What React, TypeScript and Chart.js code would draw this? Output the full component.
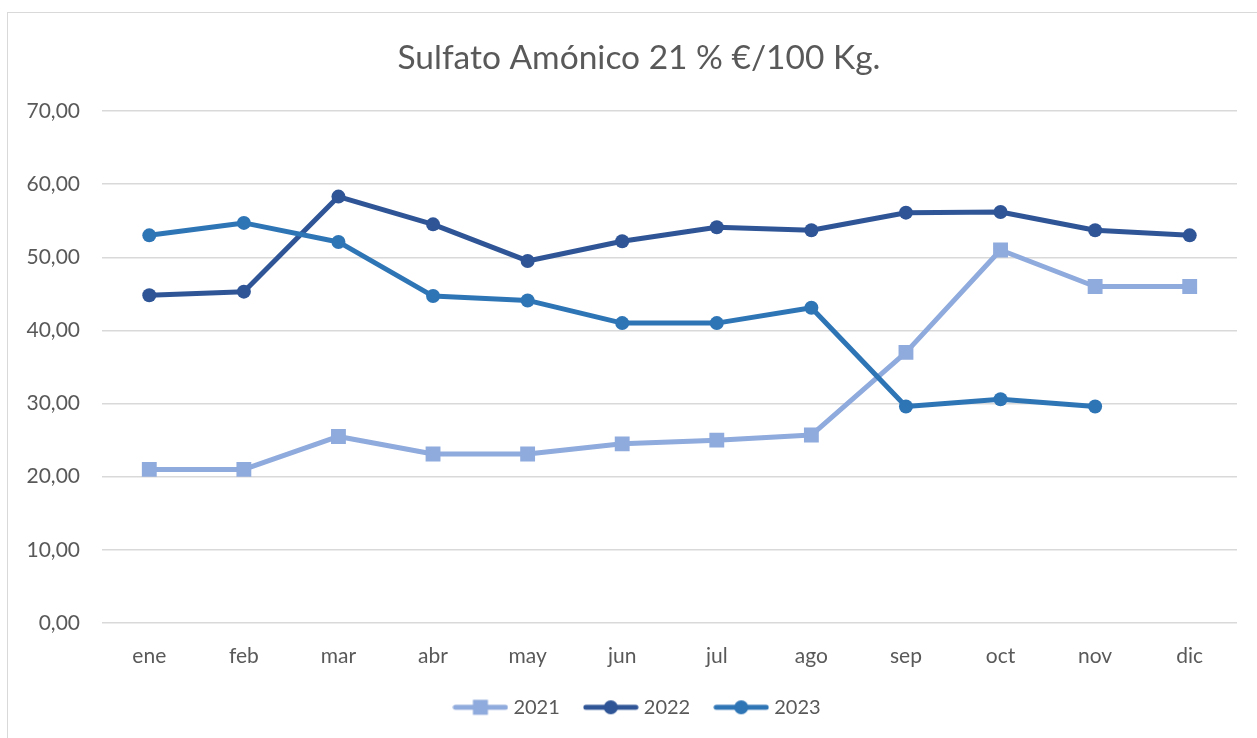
import React, { useEffect, useRef } from 'react';
import { Chart, registerables } from 'chart.js';

Chart.register(...registerables);

const TITLE = 'Sulfato Amónico 21 % €/100 Kg.';
const MONTHS = ['ene', 'feb', 'mar', 'abr', 'may', 'jun', 'jul', 'ago', 'sep', 'oct', 'nov', 'dic'];
const SERIES_LABELS = ['2021', '2022', '2023'];
const VALUES_2021 = [21.0, 21.0, 25.5, 23.1, 23.1, 24.5, 25.0, 25.7, 37.0, 51.0, 46.0, 46.0];
const VALUES_2022 = [44.8, 45.3, 58.3, 54.5, 49.5, 52.2, 54.1, 53.7, 56.1, 56.2, 53.7, 53.0];
const VALUES_2023 = [53.0, 54.7, 52.1, 44.7, 44.1, 41.0, 41.0, 43.1, 29.6, 30.6, 29.6, null];
const COLORS = ['#8FAADC', '#2F5597', '#2E75B6'];
const POINT_STYLES = ['rect', 'circle', 'circle'];
const Y_MIN = 0;
const Y_MAX = 70;
const Y_STEP = 10;

const FONT = 'Lato, "Open Sans", sans-serif';
const TEXT_COLOR = '#595959';
const GRID_COLOR = '#D9D9D9';

function makeIcon(color: string, style: string): HTMLCanvasElement {
  const c = document.createElement('canvas');
  c.width = 56;
  c.height = 18;
  const ctx = c.getContext('2d')!;
  ctx.strokeStyle = color;
  ctx.fillStyle = color;
  ctx.lineWidth = 5;
  ctx.lineCap = 'round';
  ctx.beginPath();
  ctx.moveTo(3, 9);
  ctx.lineTo(53, 9);
  ctx.stroke();
  if (style === 'rect') {
    ctx.fillRect(28 - 7.5, 9 - 7.5, 15, 15);
  } else {
    ctx.beginPath();
    ctx.arc(28, 9, 7, 0, Math.PI * 2);
    ctx.fill();
  }
  return c;
}

export default function App() {
  const ref = useRef<HTMLCanvasElement | null>(null);

  useEffect(() => {
    if (!ref.current) return;
    const icons = COLORS.map((c, i) => makeIcon(c, POINT_STYLES[i]));
    const series = [VALUES_2021, VALUES_2022, VALUES_2023];
    const chart = new Chart(ref.current, {
      type: 'line',
      data: {
        labels: MONTHS,
        datasets: series.map((vals, i) => ({
          label: SERIES_LABELS[i],
          data: vals,
          borderColor: COLORS[i],
          backgroundColor: COLORS[i],
          borderWidth: 5,
          borderJoinStyle: 'round' as const,
          borderCapStyle: 'round' as const,
          pointStyle: POINT_STYLES[i] as any,
          pointRadius: POINT_STYLES[i] === 'rect' ? 10.5 : 7,
          pointBackgroundColor: COLORS[i],
          pointBorderColor: COLORS[i],
          pointBorderWidth: 0,
          tension: 0,
          order: 2 - i,
        })),
      },
      options: {
        responsive: false,
        animation: false,
        layout: { padding: { left: 0, right: 0, top: 0, bottom: 10.7 } },
        scales: {
          x: {
            type: 'category',
            offset: true,
            grid: { display: false, drawTicks: false },
            border: { display: false },
            ticks: {
              color: TEXT_COLOR,
              font: { family: FONT, size: 21 },
              padding: 20.4,
              maxRotation: 0,
            },
            afterFit: (scale: any) => {
              scale.height = 46.3;
            },
          },
          y: {
            min: Y_MIN,
            max: Y_MAX,
            grid: { color: GRID_COLOR, lineWidth: 1.5, drawTicks: false },
            border: { display: false },
            ticks: {
              stepSize: Y_STEP,
              color: TEXT_COLOR,
              font: { family: FONT, size: 21 },
              padding: 22,
              callback: (v: any) => Number(v).toFixed(2).replace('.', ','),
            },
            afterFit: (scale: any) => {
              scale.width = 94;
            },
          },
          yRight: {
            position: 'right',
            display: true,
            min: Y_MIN,
            max: Y_MAX,
            grid: { display: false, drawTicks: false },
            border: { display: false },
            ticks: { display: false },
            afterFit: (scale: any) => {
              scale.width = 33;
            },
          },
        },
        plugins: {
          title: {
            display: true,
            text: TITLE,
            color: TEXT_COLOR,
            font: { family: FONT, size: 33.5, weight: 'normal' },
            padding: { top: 24.9, bottom: 32.9 },
          },
          legend: {
            display: true,
            position: 'bottom',
            labels: {
              usePointStyle: true,
              pointStyleWidth: 46,
              boxHeight: 18,
              padding: 28,
              color: TEXT_COLOR,
              font: { family: FONT, size: 20 },
              generateLabels: (ch: any) =>
                ch.data.datasets.map((ds: any, i: number) => ({
                  text: ds.label,
                  fillStyle: COLORS[i],
                  strokeStyle: COLORS[i],
                  lineWidth: 0,
                  hidden: !ch.isDatasetVisible(i),
                  datasetIndex: i,
                  pointStyle: icons[i],
                  fontColor: TEXT_COLOR,
                })),
            },
          },
          tooltip: { enabled: false },
        },
      },
    });
    return () => chart.destroy();
  }, []);

  return (
    <div
      style={{
        position: 'fixed',
        left: 7,
        top: 12,
        width: 1262,
        height: 725,
        border: '1px solid #D9D9D9',
        background: '#fff',
      }}
    >
      <canvas ref={ref} width={1262} height={725} style={{ display: 'block', width: 1262, height: 725 }} />
    </div>
  );
}
